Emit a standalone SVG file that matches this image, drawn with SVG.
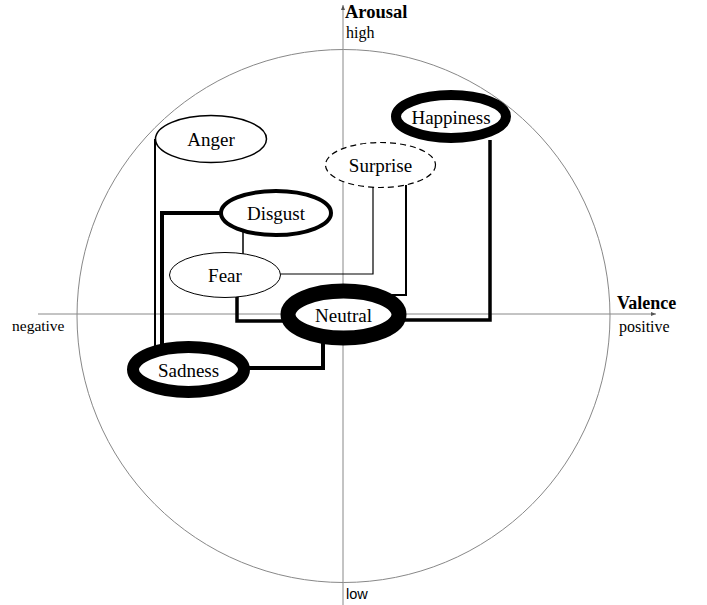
<svg xmlns="http://www.w3.org/2000/svg" width="707" height="605" viewBox="0 0 707 605">
<defs>
<style>
.lbl{font-family:"Liberation Serif","Times New Roman",serif;font-size:19px;fill:#000;text-anchor:middle}
.ax{font-family:"Liberation Serif","Times New Roman",serif;fill:#000}
.node{fill:#fff;stroke:#000}
.c{fill:none;stroke:#000;stroke-linejoin:miter}
</style>
<marker id="ah" markerWidth="6" markerHeight="6" refX="5" refY="3" orient="auto" markerUnits="userSpaceOnUse">
<path d="M0,1 L5,3 L0,5 Z" fill="#555"/>
</marker>
</defs>
<rect width="707" height="605" fill="#fff"/>
<g id="axes">
<circle cx="343.5" cy="316" r="266.5" fill="none" stroke="#888" stroke-width="1"/>
<line x1="343" y1="605" x2="343" y2="5" stroke="#888" stroke-width="1" marker-end="url(#ah)"/>
<line x1="38" y1="314" x2="656" y2="314" stroke="#888" stroke-width="1" marker-end="url(#ah)"/>
<text class="ax" x="345" y="18" font-size="18.5" font-weight="bold">Arousal</text>
<text class="ax" x="346" y="38" font-size="16">high</text>
<text class="ax" x="617" y="309" font-size="18" font-weight="bold">Valence</text>
<text class="ax" x="619" y="332" font-size="16">positive</text>
<text class="ax" x="12" y="331" font-size="15.5">negative</text>
<text x="346" y="599" font-family="'Liberation Sans',Arial,sans-serif" font-size="14.5">low</text>
</g>
<g id="connectors">
<polyline class="c" stroke-width="2" points="155,139 155,355"/>
<polyline class="c" stroke-width="4" points="221,213 162,213 162,355"/>
<polyline class="c" stroke-width="1.5" points="243,232 243,254"/>
<polyline class="c" stroke="#444" stroke-width="1.2" points="279,274 373,274 373,185"/>
<polyline class="c" stroke-width="2" points="406,185 406,295 392,295"/>
<polyline class="c" stroke-width="3.5" points="237,295 237,321 290,321"/>
<polyline class="c" stroke-width="3.5" points="400,320 490,320 490,140"/>
<polyline class="c" stroke-width="4" points="323,340 323,368 245,368"/>
</g>
<g id="anger"><ellipse class="node" cx="211" cy="139" rx="55.5" ry="23.5" stroke-width="1.5"/><text class="lbl" x="211" y="146">Anger</text></g>
<g id="happiness"><ellipse class="node" cx="451" cy="116.5" rx="55" ry="21.5" stroke-width="10"/><text class="lbl" x="451" y="124">Happiness</text></g>
<g id="surprise"><ellipse class="node" cx="380.5" cy="165" rx="55" ry="22.5" stroke="#555" stroke-width="1.2" stroke-dasharray="6,4"/><text class="lbl" x="380.5" y="172">Surprise</text></g>
<g id="disgust"><ellipse class="node" cx="276" cy="213" rx="55" ry="22" stroke-width="4"/><text class="lbl" x="276" y="220">Disgust</text></g>
<g id="fear"><ellipse class="node" cx="225" cy="275" rx="55.5" ry="22.5" stroke="#444" stroke-width="1"/><text class="lbl" x="225" y="282">Fear</text></g>
<g id="neutral"><ellipse class="node" cx="343.5" cy="314.5" rx="55.5" ry="23.5" stroke-width="15"/><text class="lbl" x="343.5" y="321.5">Neutral</text></g>
<g id="sadness"><ellipse class="node" cx="188.5" cy="369.5" rx="55.5" ry="22.5" stroke-width="12"/><text class="lbl" x="188.5" y="376.5">Sadness</text></g>
</svg>
